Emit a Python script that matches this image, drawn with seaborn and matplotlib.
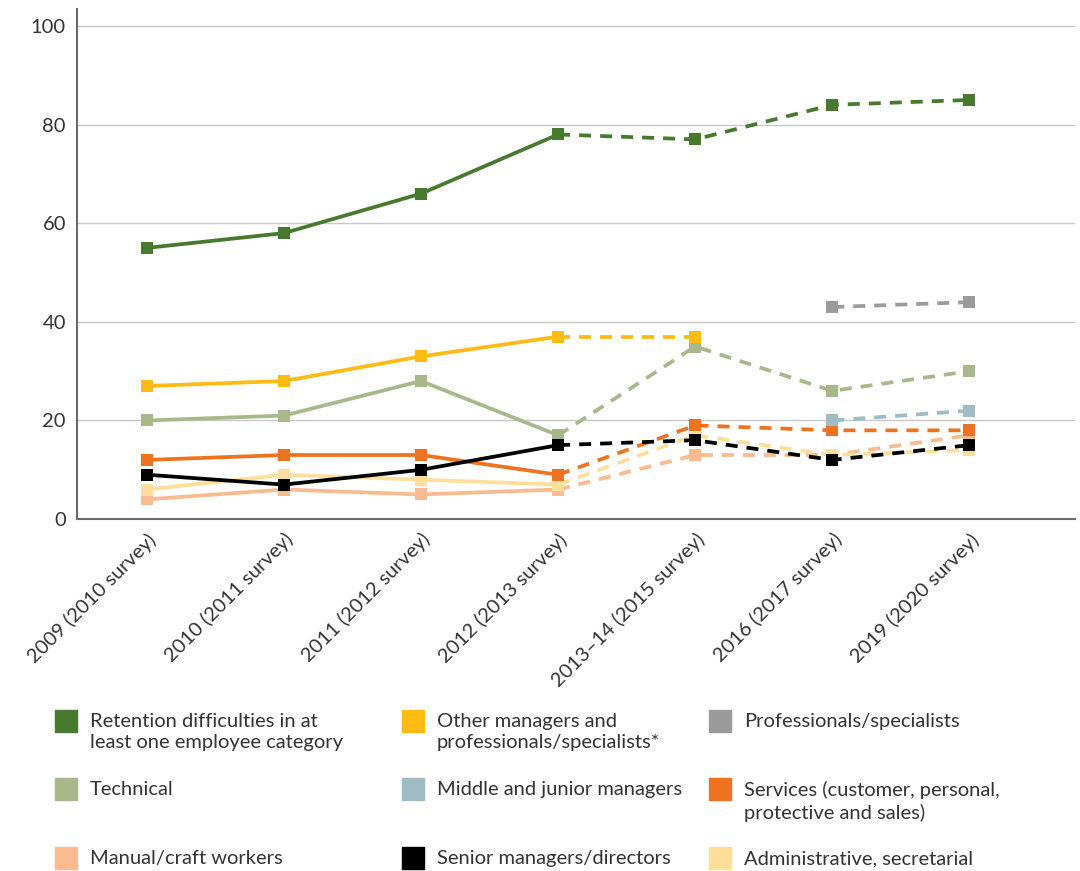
import numpy as np
import pandas as pd
import matplotlib
matplotlib.use('Agg')
import matplotlib.pyplot as plt
import seaborn as sns

periods = ['2009 (2010 survey)', '2010 (2011 survey)', '2011 (2012 survey)', '2012 (2013 survey)',
           '2013–14 (2015 survey)', '2016 (2017 survey)', '2019 (2020 survey)']

nan = np.nan
retention = [55, 58, 66, 78, 77, 84, 85]
other_managers = [27, 28, 33, 37, 37, nan, nan]
professionals = [nan, nan, nan, nan, nan, 43, 44]
technical = [20, 21, 28, 17, 35, 26, 30]
middle_junior = [nan, nan, nan, nan, nan, 20, 22]
services = [12, 13, 13, 9, 19, 18, 18]
manual = [4, 6, 5, 6, 13, 13, 17]
senior = [9, 7, 10, 15, 16, 12, 15]
admin = [6, 9, 8, 7, 17, 13, 14]

series = [
    ('Retention difficulties in at\nleast one employee category', retention, '#477a2e'),
    ('Other managers and\nprofessionals/specialists*', other_managers, '#fdbb13'),
    ('Professionals/specialists', professionals, '#9b9b9b'),
    ('Technical', technical, '#a8b88b'),
    ('Middle and junior managers', middle_junior, '#9fbcc5'),
    ('Services (customer, personal,\nprotective and sales)', services, '#ee7320'),
    ('Manual/craft workers', manual, '#f9bb8f'),
    ('Senior managers/directors', senior, '#000000'),
    ('Administrative, secretarial', admin, '#fddf9b'),
]

sns.set_theme(style='white')
plt.rcParams['font.family'] = ['Lato', 'DejaVu Sans']

fig = plt.figure(figsize=(10.8, 8.71), dpi=100)
ax = fig.add_axes([0.0713, 0.404, 0.924, 0.586])

# draw order so the busy bottom region layers like the original
draw_order = [3, 6, 8, 5, 7, 4, 2, 1, 0]
for i in draw_order:
    name, vals, col = series[i]
    df = pd.DataFrame({'x': np.arange(len(periods)), 'y': vals})
    solid = df.iloc[:4].dropna()
    dashed = df.iloc[3:].dropna()
    kw = dict(color=col, marker='s', markersize=8.5, markeredgewidth=0, linewidth=2.7, ax=ax, legend=False)
    if len(solid) > 0:
        sns.lineplot(data=solid, x='x', y='y', **kw)
    if len(dashed) > 0:
        sns.lineplot(data=dashed, x='x', y='y', linestyle=(0, (3.2, 2.4)), **kw)

ax.set_xlim(-0.51, 6.77)
ax.set_ylim(0, 103.5)
ax.set_yticks([0, 20, 40, 60, 80, 100])
ax.set_xticks(range(len(periods)))
ax.set_xticklabels(periods, rotation=45, ha='right', rotation_mode='anchor')
ax.set_xlabel('')
ax.set_ylabel('')
ax.grid(axis='y', color='#c8c8c8', linewidth=1)
ax.set_axisbelow(True)
for s in ['top', 'right']:
    ax.spines[s].set_visible(False)
for s in ['left', 'bottom']:
    ax.spines[s].set_color('#6b6b6b')
    ax.spines[s].set_linewidth(1.5)
ax.tick_params(axis='x', direction='inout', length=12, width=1.5, color='#6b6b6b',
               labelsize=14.5, labelcolor='#333333', pad=2)
ax.tick_params(axis='y', length=0, labelsize=14.5, labelcolor='#333333', pad=8)

# legend laid out as a 3x3 grid like the source
col_x = [66, 413, 720]
row_y = [721, 789, 858]
W, H = 1080, 871
for k, (name, vals, col) in enumerate(series):
    r, c = divmod(k, 3)
    mx, my = col_x[c], row_y[r]
    fig.patches.append(plt.Rectangle(((mx - 11) / W, 1 - (my + 11) / H), 22 / W, 22 / H,
                                     transform=fig.transFigure, color=col, figure=fig))
    fig.text((mx + 24) / W, 1 - (my - 8) / H, name, fontsize=14.5, color='#333333',
             va='top', ha='left', linespacing=1.3)

fig.savefig('out.png', dpi=100)
